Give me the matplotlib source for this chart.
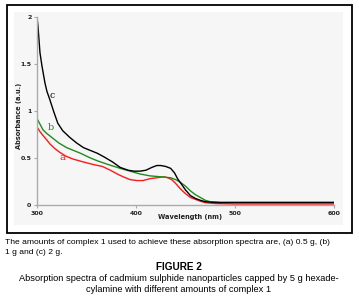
import matplotlib
matplotlib.use('Agg')
import matplotlib.pyplot as plt
from matplotlib.patches import Rectangle

# spectra (wavelength nm, absorbance a.u.)
wl_c = [300, 301, 303, 305, 308, 310, 313, 317, 321, 326, 333, 340, 347, 354, 361, 368, 376, 384, 392, 398, 404, 410, 416, 421, 425, 430, 435, 439, 442, 446, 450, 455, 460, 465, 470, 475, 485, 500, 520, 560, 600]
abs_c = [2.0, 1.90, 1.62, 1.48, 1.30, 1.21, 1.12, 0.99, 0.87, 0.79, 0.72, 0.66, 0.61, 0.58, 0.55, 0.51, 0.46, 0.40, 0.37, 0.36, 0.36, 0.37, 0.40, 0.42, 0.42, 0.41, 0.39, 0.34, 0.28, 0.22, 0.16, 0.10, 0.07, 0.05, 0.035, 0.03, 0.025, 0.025, 0.025, 0.025, 0.025]

wl_b = [300, 303, 306, 310, 316, 322, 330, 337, 344, 354, 361, 372, 384, 394, 404, 414, 425, 435, 440, 445, 450, 455, 460, 465, 470, 475, 485, 500, 520, 560, 600]
abs_b = [0.92, 0.86, 0.80, 0.76, 0.71, 0.66, 0.61, 0.58, 0.55, 0.50, 0.47, 0.43, 0.39, 0.36, 0.33, 0.31, 0.30, 0.29, 0.27, 0.24, 0.20, 0.15, 0.11, 0.08, 0.05, 0.035, 0.03, 0.03, 0.03, 0.03, 0.03]

wl_a = [300, 303, 306, 310, 313, 318, 323, 329, 336, 346, 357, 366, 374, 381, 387, 394, 401, 407, 414, 421, 428, 432, 436, 440, 445, 450, 455, 460, 465, 470, 480, 500, 530, 560, 600]
abs_a = [0.83, 0.78, 0.74, 0.69, 0.65, 0.60, 0.56, 0.52, 0.49, 0.46, 0.43, 0.41, 0.37, 0.33, 0.30, 0.27, 0.26, 0.26, 0.28, 0.29, 0.30, 0.29, 0.27, 0.23, 0.17, 0.12, 0.08, 0.06, 0.04, 0.025, 0.015, 0.01, 0.01, 0.01, 0.01]

yticks = [0, 0.5, 1, 1.5, 2]
ytick_labels = ['0', '0.5', '1', '1.5', '2']
xticks = [300, 400, 500, 600]

W, H = 359, 301
fig = plt.figure(figsize=(W / 100, H / 100), dpi=100)

def fx(px):
    return px / W

def fy(py):
    return 1 - py / H

# outer frame and grey panel (behind the axes)
fig.patches.append(Rectangle((fx(6.5), fy(232.5)), fx(352) - fx(6.5), fy(4.5) - fy(232.5),
                             transform=fig.transFigure, facecolor='white', edgecolor='black',
                             lw=1.3, zorder=-10))
fig.patches.append(Rectangle((fx(14), fy(225)), fx(343) - fx(14), fy(12) - fy(225),
                             transform=fig.transFigure, facecolor='#f6f6f6', edgecolor='none',
                             zorder=-9))

ax = fig.add_axes([fx(37), fy(205), fx(334) - fx(37), fy(17) - fy(205)])
ax.patch.set_alpha(0)
ax.plot(wl_a, abs_a, color='#ff1a1a', lw=1.0)
ax.plot(wl_b, abs_b, color='#1e8c1e', lw=1.0)
ax.plot(wl_c, abs_c, color='black', lw=1.0)

ax.set_xlim(300, 600)
ax.set_ylim(0, 2)
ax.set_xticks(xticks)
ax.set_yticks(yticks)
ax.set_yticklabels(ytick_labels)
for s in ['top', 'right']:
    ax.spines[s].set_visible(False)
for s in ['left', 'bottom']:
    ax.spines[s].set_color('#aaaaaa')
    ax.spines[s].set_linewidth(1.0)
ax.tick_params(axis='both', labelsize=4.5, length=2, color='#aaaaaa', pad=2)
for lab in ax.get_xticklabels() + ax.get_yticklabels():
    lab.set_fontweight('bold')
    lab.set_color('#222222')

ax.text(315.5, 1.17, 'c', fontsize=6.5, family='DejaVu Serif', color='black', ha='center', va='center')
ax.text(313.5, 0.82, 'b', fontsize=7, family='DejaVu Serif', color='#1e8c1e', ha='center', va='center')
ax.text(325.5, 0.51, 'a', fontsize=7, family='DejaVu Serif', color='#ff1a1a', ha='center', va='center')

fig.text(fx(190), fy(217), 'Wavelength (nm)', fontsize=4.8, fontweight='bold',
         ha='center', va='center', color='#222222')
fig.text(fx(19), fy(116), 'Absorbance (a.u.)', fontsize=4.8, fontweight='bold',
         ha='center', va='center', rotation=90, color='#222222')

fig.text(fx(5), fy(242), 'The amounts of complex 1 used to achieve these absorption spectra are, (a) 0.5 g, (b)',
         fontsize=6.1, family='Liberation Sans', ha='left', va='center')
fig.text(fx(5), fy(253), '1 g and (c) 2 g.', fontsize=6.1, family='Liberation Sans', ha='left', va='center')
fig.text(fx(179), fy(267), 'FIGURE 2', fontsize=7.2, family='Liberation Sans', fontweight='bold',
         ha='center', va='center')
fig.text(fx(179), fy(278.5), 'Absorption spectra of cadmium sulphide nanoparticles capped by 5 g hexade-',
         fontsize=6.7, family='Liberation Sans', ha='center', va='center')
fig.text(fx(179), fy(290), 'cylamine with different amounts of complex 1',
         fontsize=6.7, family='Liberation Sans', ha='center', va='center')

fig.savefig('out.png', dpi=100)
